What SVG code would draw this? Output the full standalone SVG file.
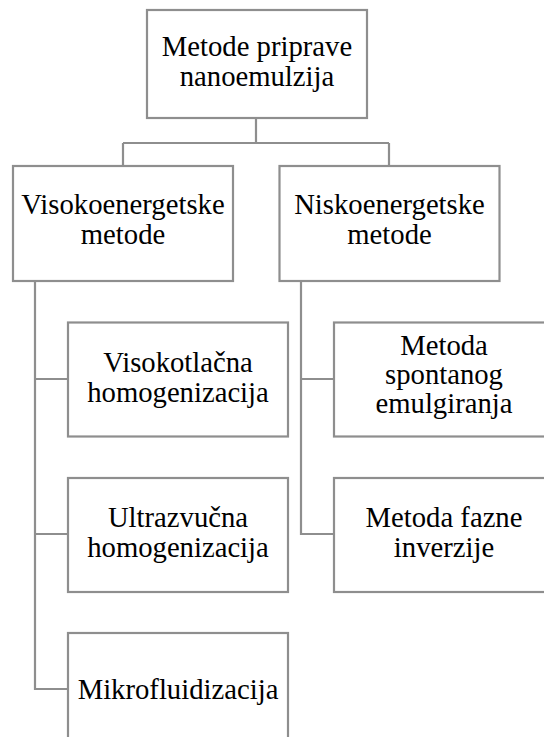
<svg xmlns="http://www.w3.org/2000/svg" width="544" height="737" viewBox="0 0 544 737">
<style>
.box{fill:#ffffff;stroke:#8e8e8e;stroke-width:2.2}
.con{fill:none;stroke:#8e8e8e;stroke-width:2.2}
.t{font-family:'Liberation Serif','Times New Roman','DejaVu Serif',serif;font-size:28.7px;fill:#000000;text-anchor:middle}
</style>
<rect width="544" height="737" fill="#ffffff"/>
<g id="connectors">
<path class="con" d="M256 118 V143 M123 143 H389 M123 143 V166 M389 143 V166"/>
<path class="con" d="M35 281 V689 H68 M35 379 H68 M35 534 H68"/>
<path class="con" d="M301 281 V534 H334 M301 379 H334"/>
</g>
<g id="root">
<rect class="box" x="147" y="10" width="220" height="108"/>
<text class="t" x="257" y="56">Metode priprave</text>
<text class="t" x="257" y="86">nanoemulzija</text>
</g>
<g id="visoko">
<rect class="box" x="13" y="166" width="220" height="115"/>
<text class="t" x="123" y="214">Visokoenergetske</text>
<text class="t" x="123" y="244">metode</text>
</g>
<g id="nisko">
<rect class="box" x="279.5" y="166" width="220" height="115"/>
<text class="t" x="389.5" y="214">Niskoenergetske</text>
<text class="t" x="389.5" y="244">metode</text>
</g>
<g id="visokotlacna">
<rect class="box" x="68" y="322.5" width="220" height="114"/>
<text class="t" x="178" y="372">Visokotlačna</text>
<text class="t" x="178" y="402">homogenizacija</text>
</g>
<g id="ultrazvucna">
<rect class="box" x="68" y="478" width="220" height="114"/>
<text class="t" x="178" y="527">Ultrazvučna</text>
<text class="t" x="178" y="557">homogenizacija</text>
</g>
<g id="mikrofluidizacija">
<rect class="box" x="68" y="633" width="220" height="114"/>
<text class="t" x="178" y="699">Mikrofluidizacija</text>
</g>
<g id="spontano">
<rect class="box" x="334" y="322.5" width="220" height="114"/>
<text class="t" x="444" y="355">Metoda</text>
<text class="t" x="444" y="384">spontanog</text>
<text class="t" x="444" y="413">emulgiranja</text>
</g>
<g id="fazna">
<rect class="box" x="334" y="478" width="220" height="114"/>
<text class="t" x="444" y="527">Metoda fazne</text>
<text class="t" x="444" y="557">inverzije</text>
</g>
</svg>
